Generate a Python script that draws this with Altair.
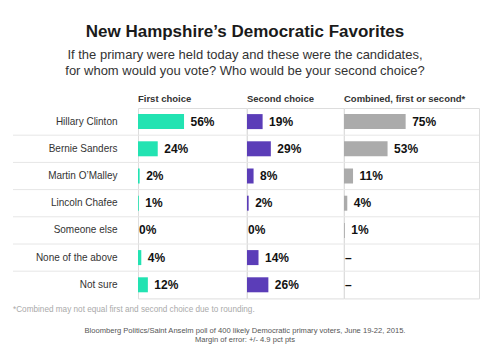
import altair as alt
import pandas as pd

candidates = ["Hillary Clinton", "Bernie Sanders", "Martin O\u2019Malley", "Lincoln Chafee",
              "Someone else", "None of the above", "Not sure"]
first_choice = [56, 24, 2, 1, 0, 4, 12]
second_choice = [19, 29, 8, 2, 0, 14, 26]
combined = [75, 53, 11, 4, 1, None, None]
headers = ["First choice", "Second choice", "Combined, first or second*"]
colors = ["#22e3b2", "#5b3db8", "#ababab"]

title = "New Hampshire\u2019s Democratic Favorites"
subtitle = ["If the primary were held today and these were the candidates,",
            "for whom would you vote? Who would be your second choice?"]
footnote = "*Combined may not equal first and second choice due to rounding."
source = ["Bloomberg Politics/Saint Anselm poll of 400 likely Democratic primary voters, June 19-22, 2015.",
          "Margin of error: +/- 4.9 pct pts"]

FONT = "Liberation Sans"
PX_PER_PCT = 0.822
ROW_H = 27.2
H = ROW_H * len(candidates)
widths = [108.6, 96.7, 135.0]


def text_layer(t, x, y, align="left", size=10, weight="normal", color="#333333", line_height=None):
    kw = dict(align=align, baseline="alphabetic", font=FONT, fontSize=size, fontWeight=weight, color=color)
    if line_height is not None:
        kw["lineHeight"] = line_height
    return alt.Chart(pd.DataFrame({"a": [0]})).mark_text(**kw).encode(
        text=alt.value(t), x=alt.value(x), y=alt.value(y))


def panel(i, values, first=False):
    df = pd.DataFrame({"cand": candidates, "v": values})
    w = widths[i]
    base = alt.Chart(df).transform_calculate(
        lbl="datum.v == null ? '\u2013' : datum.v + '%'"
    )
    x_scale = alt.Scale(domain=[0, w / PX_PER_PCT], nice=False, zero=True)
    if first:
        y_axis = alt.Axis(title=None, ticks=False, domain=False, labelFont=FONT, labelFontSize=10,
                          labelColor="#333333", labelPadding=21, grid=False)
    else:
        y_axis = None
    y_scale = alt.Scale(domain=candidates, paddingInner=0, paddingOuter=0)

    rules = alt.Chart(pd.DataFrame({"cand": candidates[:-1]})).mark_rule(
        color="#e6e6e6", strokeWidth=1
    ).encode(
        y=alt.Y("cand:N", sort=candidates, scale=y_scale, bandPosition=1, axis=y_axis),
        x=alt.value(-125 if first else 0),
        x2=alt.value(w),
    )
    bars = base.mark_bar(size=15, color=colors[i]).encode(
        x=alt.X("v:Q", scale=x_scale, axis=None),
        y=alt.Y("cand:N", sort=candidates, scale=y_scale, axis=y_axis),
    ).transform_filter("datum.v > 0")
    txt_pos = base.mark_text(align="left", baseline="middle", dx=6.5, font=FONT, fontSize=12,
                             fontWeight="bold", color="#111111").encode(
        x=alt.X("v:Q", scale=x_scale, axis=None),
        y=alt.Y("cand:N", sort=candidates, scale=y_scale, axis=y_axis),
        text="lbl:N",
    ).transform_filter("datum.v > 0")
    txt_zero = base.mark_text(align="left", baseline="middle", dx=1, font=FONT, fontSize=12,
                              fontWeight="bold", color="#111111").encode(
        x=alt.X("z:Q", scale=x_scale, axis=None),
        y=alt.Y("cand:N", sort=candidates, scale=y_scale, axis=y_axis),
        text="lbl:N",
    ).transform_calculate(z="0").transform_filter("datum.v == null || datum.v <= 0")

    header = text_layer(headers[i], 0, -5.7, size=9.5, weight="bold", color="#333333")

    layers = [rules, bars, txt_pos, txt_zero, header]

    if first:
        # invisible anchor for page origin
        layers.append(alt.Chart(pd.DataFrame({"a": [0]})).mark_rule(strokeWidth=0, opacity=0).encode(
            x=alt.value(-137), x2=alt.value(-136), y=alt.value(-107.4)))
        layers.append(text_layer(title, 107, -71.2, align="center", size=17, weight="bold", color="#1a1a1a"))
        layers.append(text_layer(subtitle, 107, -49.4, align="center", size=13, color="#333333", line_height=16))
        layers.append(text_layer(footnote, -125, 203.9, size=8.2, color="#aaaaaa"))
        layers.append(text_layer(source, 107, 225.0, align="center", size=7.6, color="#555555", line_height=9))

    return alt.layer(*layers).properties(width=w, height=H)


chart = alt.hconcat(
    panel(0, first_choice, first=True),
    panel(1, second_choice),
    panel(2, combined),
    spacing=0,
    bounds="flush",
).configure_view(stroke=None).configure(background="white", padding=0)

chart.save("out.html", embed_options={"renderer": "svg", "actions": False})
